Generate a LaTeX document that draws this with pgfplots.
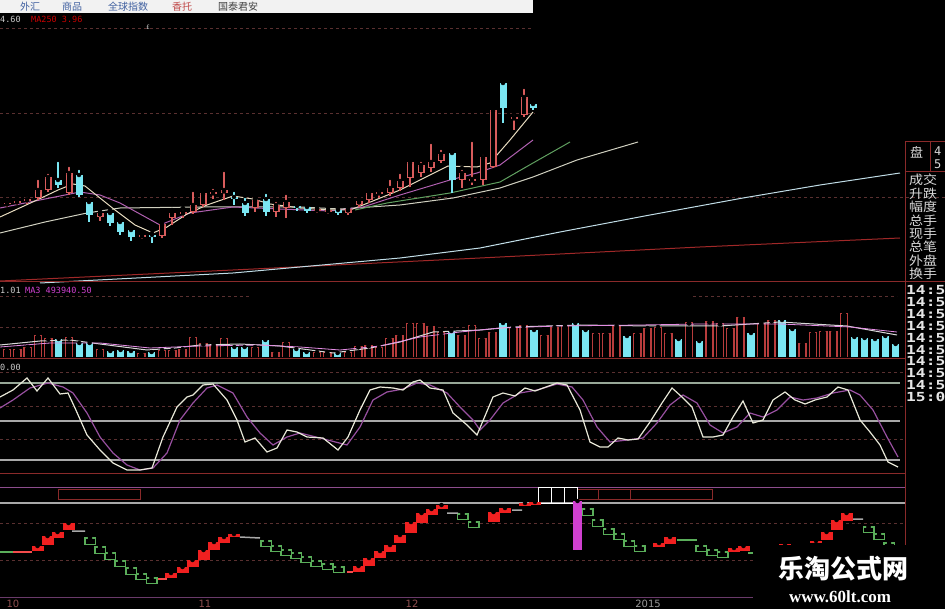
\documentclass[border=0pt]{standalone}
\usepackage{pgfplots}
\pgfplotsset{compat=1.18}
\usepackage{pgfplotstable}
\usepackage{fontspec}
\setmainfont{DejaVu Sans}
\newfontfamily\cjk{Noto Sans CJK SC}
\newfontfamily\cjkw[FakeStretch=1.12]{Noto Sans CJK SC}
\newfontfamily\mono{DejaVu Sans Mono}
\newfontfamily\monow[FakeStretch=1.3]{DejaVu Sans Mono}
\newfontfamily\wser{Liberation Serif}

\definecolor{cred}{HTML}{D85C5C}
\definecolor{ccyan}{HTML}{7AE6F2}
\definecolor{vred}{HTML}{B83C3C}
\definecolor{sepred}{HTML}{8A2A2A}
\definecolor{gridc}{HTML}{5A3030}
\definecolor{ma5}{HTML}{E8DCC0}
\definecolor{ma10}{HTML}{B060B0}
\definecolor{ma20}{HTML}{60A060}
\definecolor{ma30}{HTML}{D0D0C0}
\definecolor{ma120}{HTML}{C0DCE6}
\definecolor{ma250}{HTML}{A02828}
\definecolor{kline}{HTML}{E8E8D8}
\definecolor{dline}{HTML}{9850A0}
\definecolor{hlg}{HTML}{98A898}
\definecolor{hl}{HTML}{A8A8A8}
\definecolor{sred}{HTML}{F02020}
\definecolor{sgreen}{HTML}{5AAE5A}
\definecolor{magbar}{HTML}{D040D0}
\definecolor{tabblue}{HTML}{4060A0}
\definecolor{tabred}{HTML}{C04848}
\definecolor{axlab}{HTML}{905050}

% candles: x, body top, body bottom, high, low (pixel rows)
\pgfplotstableread{
x top bot hi lo
7 203 204 200 207
17 201 203 198 205
27 199 201 195 204
38 190 198 178 200
48 177 190 172 192
69 173 193 165 195
100 213 217 211 221
142 235 237 233 239
162 224 236 222 238
172 213 218 210 225
183 212 214 208 218
193 205 212 190 214
203 193 205 190 207
213 192 194 187 199
224 190 193 170 200
255 200 208 198 212
276 205 212 200 217
286 202 208 193 218
317 209 211 207 213
328 210 212 208 214
348 209 213 208 215
359 201 205 198 207
369 193 200 190 203
379 192 194 188 198
390 188 193 178 196
400 181 188 172 191
410 162 178 159 187
421 165 173 160 177
431 162 168 142 172
441 154 161 148 163
462 173 180 168 188
472 179 181 140 185
483 157 180 153 185
493 110 167 108 168
514 117 119 113 130
524 97 115 87 117
}\candU
\pgfplotstableread{
x top bot hi lo
58 180 185 160 188
79 175 195 168 197
89 202 215 200 222
110 213 223 210 226
120 222 232 220 235
131 230 237 227 241
152 235 237 233 243
234 197 199 190 205
245 203 213 196 216
266 199 212 192 216
297 206 208 204 211
307 207 211 205 213
338 210 213 209 215
452 153 180 150 193
503 83 108 82 123
533 104 108 101 110
}\candD

% volume bars: x, top row (bottom at 357)
\pgfplotstableread{
x top
7.0 349
17.3 349
27.7 347
38.0 335
48.3 338
69.0 337
100.0 349
141.3 353
162.0 350
172.3 350
182.6 349
193.0 337
203.3 343
213.6 345
224.0 338
255.0 347
275.6 352
286.0 342
317.0 352
327.3 352
348.0 352
358.3 346
368.6 345
379.0 347
389.3 338
399.6 335
410.0 323
420.3 323
430.6 326
441.0 332
461.6 335
472.0 325
482.3 338
492.6 332
513.3 327
523.6 325
544.3 335
554.6 327
565.0 325
596.0 333
606.3 333
616.6 326
637.3 333
647.6 328
658.0 327
668.3 333
689.0 322
709.6 321
720.0 323
730.3 328
740.6 317
761.3 323
771.6 320
802.6 343
813.0 332
823.3 331
833.6 331
844.0 313
}\volU
\pgfplotstableread{
x top
58.7 339
79.3 343
89.6 343
110.3 351
120.6 350
131.0 351
151.6 352
234.3 347
244.6 347
265.3 340
296.3 349
306.6 352
337.6 353
451.3 331
503.0 323
534.0 330
575.3 323
585.6 330
627.0 336
678.6 339
699.3 341
751.0 333
782.0 320
792.3 329
854.3 337
864.6 338
875.0 339
885.3 336
895.6 344
}\volD

% step indicator boxes: x centre, top, bottom
\pgfplotstableread{
x top bot
37.5 546 551
47.5 536 545
57.5 532 538
68.5 523 530
171 573 578
182.5 567 573
192.5 560 567
203.5 550 560
214 542 550
224 537 543
234 534 537
358.5 566 572
369 558 566
380 551 558
390 545 552
400 535 543
411 522 533
421.5 513 523
431.5 509 515
441.5 505 509
493.5 512 522
505 508 513
525 503 506
535 502 505
659 543 547
670 537 544
734 548 552
743.5 546 551
785 544 546
816 541 543
826.5 532 540
836.5 520 530
846.5 513 521
}\stepU
\pgfplotstableread{
x top bot
90 537 545
100 546 554
110 552 560
120 560 567
131 567 575
141 573 580
151.5 577 584
266 540 547
276 545 552
286 549 556
296 552 559
306 556 563
316 560 567
327.5 563 570
338.5 566 573
462.5 513 520
473.5 521 528
587.5 508 516
597.5 519 527
608.5 528 535
619 533 540
629 540 547
639.5 545 552
701 545 552
712 549 556
722.5 551 558
868.5 526 533
879 533 540
889 542 548
}\stepD

\newcommand{\cl}[2]{\node[anchor=west, inner sep=0pt, font=\cjkw\fontsize{12.5}{12.5}\selectfont, text=white!85!black] at (axis cs:909,#2) {#1};}
\newcommand{\tm}[2]{\node[anchor=west, inner sep=0pt, font=\monow\bfseries\fontsize{12.5}{12.5}\selectfont, text=white!90!black] at (axis cs:906,#2) {#1};}

\begin{document}
\begin{tikzpicture}
\begin{axis}[x=1pt, y=1pt, xmin=0, xmax=945, ymin=0, ymax=609, y dir=reverse,
  hide axis, clip=false, unbounded coords=jump]
\coordinate (BL) at (axis cs:0,609);
\coordinate (TR) at (axis cs:945,0);
\fill[black] (axis cs:0,0) rectangle (axis cs:945,609);
% top tab bar
\fill[white!95!black] (axis cs:0,0) rectangle (axis cs:533,13);
\node[font=\cjk\fontsize{10}{10}\selectfont, text=tabblue] at (axis cs:30,6.5) {外汇};
\node[font=\cjk\fontsize{10}{10}\selectfont, text=tabblue] at (axis cs:72,6.5) {商品};
\node[font=\cjk\fontsize{10}{10}\selectfont, text=tabblue] at (axis cs:128,6.5) {全球指数};
\node[font=\cjk\fontsize{10}{10}\selectfont, text=tabred] at (axis cs:182,6.5) {香托};
\node[font=\cjk\fontsize{10}{10}\selectfont, text=black!75] at (axis cs:238,6.5) {国泰君安};
\node[anchor=west, inner sep=0pt, font=\mono\fontsize{8.5}{8.5}\selectfont, text=white!80!black] at (axis cs:0,19) {4.60};
\node[anchor=west, inner sep=0pt, font=\mono\fontsize{8.5}{8.5}\selectfont, text=red!80!black] at (axis cs:31,19) {MA250 3.96};
\node[inner sep=0pt, font=\fontsize{6}{6}\selectfont, text=white!80!black] at (axis cs:148,27) {£};
\addplot[gridc, dashed, line width=0.8pt] coordinates {(0,28) (533,28)};

% ---------- price panel ----------
\addplot[gridc, dashed, line width=0.8pt] coordinates {(0,113) (535,113) (nan,nan) (0,197) (945,197)};
\addplot[ma250, line width=1pt] coordinates {(0,281) (233,270) (480,258) (700,247) (900,238)};
\addplot[ma120, line width=1pt] coordinates {(40,283) (233,273) (400,258) (480,248) (560,232) (650,215) (743,198) (820,185) (900,173)};
\addplot[ma30, line width=1pt] coordinates {(0,233) (45,222) (87,213) (120,208) (200,207) (300,207) (340,209) (400,205) (453,198) (500,188) (533,177) (577,160) (638,142)};
\addplot[ma20, line width=1pt] coordinates {(355,210) (387,203) (450,193) (500,182) (533,163) (570,142)};
\addplot[ma10, line width=1pt] coordinates {(0,208) (40,200) (80,192) (100,195) (120,203) (160,225) (190,213) (233,207) (280,209) (330,211) (363,207) (400,195) (450,180) (477,173) (500,165) (533,140)};
\addplot[ma5, line width=1pt] coordinates {(0,217) (37,200) (58,190) (73,184) (85,186) (100,198) (115,210) (135,225) (153,233) (167,227) (187,214) (207,205) (233,196) (253,199) (270,204) (300,208) (330,210) (350,210) (363,205) (400,190) (448,166) (477,167) (490,163) (510,140) (533,112)};
% candle wicks
\addplot[only marks, mark=none, error bars/.cd, y dir=plus, y explicit, error mark=none,
  error bar style={line width=1.1pt, draw=cred}] table[x=x, y=hi, y error expr=\thisrow{lo}-\thisrow{hi}] {\candU};
\addplot[only marks, mark=none, error bars/.cd, y dir=plus, y explicit, error mark=none,
  error bar style={line width=1.1pt, draw=ccyan}] table[x=x, y=hi, y error expr=\thisrow{lo}-\thisrow{hi}] {\candD};
% candle bodies
\addplot[only marks, mark=none, error bars/.cd, y dir=plus, y explicit, error mark=none,
  error bar style={line width=7pt, draw=cred}] table[x=x, y=top, y error expr={max(\thisrow{bot}-\thisrow{top},1.5)}] {\candU};
\addplot[only marks, mark=none, error bars/.cd, y dir=plus, y explicit, error mark=none,
  error bar style={line width=4.2pt, draw=black}] table[x=x, y expr=\thisrow{top}+1.4, y error expr={max(\thisrow{bot}-\thisrow{top}-2.8,0)}] {\candU};
\addplot[only marks, mark=none, error bars/.cd, y dir=plus, y explicit, error mark=none,
  error bar style={line width=7pt, draw=ccyan}] table[x=x, y=top, y error expr={max(\thisrow{bot}-\thisrow{top},1.5)}] {\candD};

% separators
\addplot[sepred, line width=1pt] coordinates {(0,282) (945,282) (nan,nan) (0,359) (905,359) (nan,nan) (0,473) (905,473)};
\addplot[sepred, line width=1pt] coordinates {(905,142) (905,545) (nan,nan) (905,172) (945,172) (nan,nan) (905,142) (945,142) (nan,nan) (930,142) (930,172)};

% ---------- volume panel ----------
\node[anchor=west, inner sep=0pt, font=\mono\fontsize{8.5}{8.5}\selectfont, text=white!80!black] at (axis cs:0,290) {1.01};
\node[anchor=west, inner sep=0pt, font=\mono\fontsize{8.5}{8.5}\selectfont, text=magbar] at (axis cs:25,290) {MA3 493940.50};
\addplot[gridc, dashed, line width=0.8pt] coordinates {(0,296) (250,296) (nan,nan) (693,296) (897,296) (nan,nan) (0,327) (480,327)};
\addplot[only marks, mark=none, error bars/.cd, y dir=plus, y explicit, error mark=none,
  error bar style={line width=8.5pt, draw=vred}] table[x=x, y=top, y error expr=357-\thisrow{top}] {\volU};
\addplot[only marks, mark=none, error bars/.cd, y dir=plus, y explicit, error mark=none,
  error bar style={line width=5.7pt, draw=black}] table[x=x, y expr=\thisrow{top}+1.4, y error expr=355.6-\thisrow{top}] {\volU};
\addplot[only marks, mark=none, error bars/.cd, y dir=plus, y explicit, error mark=none,
  error bar style={line width=7.5pt, draw=ccyan}] table[x=x, y=top, y error expr=357-\thisrow{top}] {\volD};
\addplot[white!85!black, line width=1pt] coordinates {(0,345) (40,341) (70,340) (100,344) (147,350) (175,348) (200,345) (240,344) (280,346) (333,353) (370,348) (400,342) (433,332) (480,330) (513,327) (580,325) (650,326) (720,326) (780,322) (847,326) (897,335)};
\addplot[magbar!60!white, line width=0.8pt] coordinates {(0,347) (50,343) (100,343) (150,348) (200,346) (260,345) (300,347) (340,350) (380,346) (420,337) (460,332) (500,328) (560,326) (640,325) (700,324) (780,324) (850,327) (897,332)};
\node[anchor=west, inner sep=0pt, font=\mono\fontsize{8.5}{8.5}\selectfont, text=white!80!black] at (axis cs:0,367) {0.00};

% ---------- KDJ panel ----------
\addplot[gridc, dashed, line width=0.8pt] coordinates {(0,372) (903,372) (nan,nan) (0,406) (903,406) (nan,nan) (0,439) (903,439)};
\addplot[hlg, line width=1.3pt] coordinates {(0,383) (900,383)};
\addplot[hl, line width=1.3pt] coordinates {(0,421) (900,421) (nan,nan) (0,460) (900,460)};
\addplot[dline, line width=1.2pt] coordinates {(0,408)(13,400)(30,388)(48,383)(63,387)(73,393)(87,413)(100,437)(113,453)(127,465)(140,470)(153,468)(167,453)(180,420)(193,403)(207,388)(217,385)(233,393)(247,417)(260,433)(273,445)(287,437)(300,433)(320,438)(347,445)(360,427)(373,400)(387,392)(403,389)(417,383)(430,385)(447,393)(460,407)(473,420)(480,430)(490,420)(503,403)(520,393)(537,390)(557,384)(572,387)(583,400)(597,427)(610,442)(627,440)(643,438)(657,423)(670,405)(683,395)(697,403)(710,425)(723,433)(737,427)(750,413)(763,417)(777,410)(790,397)(803,400)(817,398)(833,393)(850,390)(860,395)(873,410)(887,437)(898,457)};
\addplot[kline, line width=1.2pt] coordinates {(0,397)(13,390)(27,378)(37,391)(48,378)(60,394)(68,393)(75,408)(87,435)(100,450)(113,463)(127,470)(140,470)(152,468)(163,437)(177,407)(187,397)(193,395)(203,385)(213,384)(227,400)(237,420)(245,442)(255,438)(267,452)(277,448)(287,430)(297,432)(307,437)(323,438)(338,450)(348,437)(360,410)(370,390)(380,387)(393,388)(403,390)(413,382)(420,380)(430,388)(443,390)(453,413)(467,425)(477,435)(493,397)(503,393)(515,396)(525,388)(535,391)(557,383)(567,385)(580,410)(590,442)(600,447)(608,447)(618,438)(628,440)(638,439)(650,422)(662,403)(672,388)(682,397)(692,407)(703,437)(713,437)(723,435)(733,417)(743,401)(753,423)(763,420)(773,400)(785,392)(795,400)(805,404)(815,400)(827,397)(838,387)(848,390)(860,420)(870,432)(880,445)(888,462)(898,467)};

% ---------- signal row ----------
\addplot[ma10!80!black, line width=1pt] coordinates {(0,487) (905,487)};
\addplot[hl, line width=1.5pt] coordinates {(0,503) (905,503)};
\addplot[sepred, line width=1pt] coordinates {(58,489) (140,489) (140,499) (58,499) (58,489) (nan,nan) (577,489) (712,489) (712,499) (577,499) (577,489) (nan,nan) (598,489) (598,499) (nan,nan) (630,489) (630,499)};
\addplot[white, line width=1pt] coordinates {(538,487) (577,487) (577,503) (538,503) (538,487) (nan,nan) (551,487) (551,503) (nan,nan) (564,487) (564,503)};

% ---------- step indicator panel ----------
\addplot[gridc, dashed, line width=0.8pt] coordinates {(0,523) (903,523) (nan,nan) (0,560) (903,560)};
\addplot[only marks, mark=none, error bars/.cd, y dir=plus, y explicit, error mark=none,
  error bar style={line width=12pt, draw=sgreen}] table[x=x, y=top, y error expr=\thisrow{bot}-\thisrow{top}] {\stepD};
\addplot[only marks, mark=none, error bars/.cd, y dir=plus, y explicit, error mark=none,
  error bar style={line width=9pt, draw=black}] table[x=x, y expr=\thisrow{top}+1.5, y error expr={max(\thisrow{bot}-\thisrow{top}-3,0)}] {\stepD};
\addplot[only marks, mark=none, error bars/.cd, y dir=plus, y explicit, error mark=none,
  error bar style={line width=12pt, draw=sred}] table[x=x, y=top, y error expr=\thisrow{bot}-\thisrow{top}] {\stepU};
\addplot[sgreen, line width=1.5pt] coordinates {(0,552) (13,552) (nan,nan) (677,540) (697,540) (nan,nan) (748,553) (755,553)};
\addplot[sred!80!white, line width=1.5pt] coordinates {(13,552) (32,552) (nan,nan) (158,579) (167,579) (nan,nan) (347,572) (353,572)};
\addplot[hl, line width=1.5pt] coordinates {(72,531) (85,531) (nan,nan) (240,537) (260,538) (nan,nan) (447,513) (458,513) (nan,nan) (512,510) (522,510) (nan,nan) (853,519) (863,519)};
\addplot[only marks, mark=none, error bars/.cd, y dir=plus, y explicit, error mark=none,
  error bar style={line width=9pt, draw=magbar}] coordinates {(577.5,501) +- (0,49)};

% bottom axis
\addplot[ma10!60!black, line width=1pt] coordinates {(0,597) (753,597)};
\node[font=\fontsize{10}{10}\selectfont, text=axlab] at (axis cs:13,604) {10};
\node[font=\fontsize{10}{10}\selectfont, text=axlab] at (axis cs:205,604) {11};
\node[font=\fontsize{10}{10}\selectfont, text=axlab] at (axis cs:412,604) {12};
\node[font=\fontsize{10}{10}\selectfont, text=white!60!black] at (axis cs:648,604) {2015};

% ---------- right info column ----------
\node[anchor=west, inner sep=0pt, font=\cjk\fontsize{13}{13}\selectfont, text=white!85!black] at (axis cs:910,152) {盘};
\node[anchor=west, inner sep=0pt, font=\mono\fontsize{12}{12}\selectfont, text=white!85!black] at (axis cs:934,151) {4};
\node[anchor=west, inner sep=0pt, font=\mono\fontsize{12}{12}\selectfont, text=white!85!black] at (axis cs:934,164) {5};
\cl{成交}{180}
\cl{升跌}{194}
\cl{幅度}{207}
\cl{总手}{221}
\cl{现手}{234}
\cl{总笔}{247}
\cl{外盘}{261}
\cl{换手}{274}
\tm{14:5}{290}
\tm{14:5}{302}
\tm{14:5}{314}
\tm{14:5}{326}
\tm{14:5}{338}
\tm{14:5}{350}
\tm{14:5}{361}
\tm{14:5}{373}
\tm{14:5}{385}
\tm{15:0}{397}

% ---------- watermark ----------
\fill[black] (axis cs:753,545) rectangle (axis cs:945,609);
\node[font=\cjk\bfseries\fontsize{26}{26}\selectfont, text=white] at (axis cs:843,569) {乐淘公式网};
\node[font=\wser\bfseries\fontsize{17}{17}\selectfont, text=white] at (axis cs:840,597) {www.60lt.com};
\end{axis}
\pgfresetboundingbox
\path[use as bounding box] (BL) rectangle (TR);
\end{tikzpicture}
\end{document}
